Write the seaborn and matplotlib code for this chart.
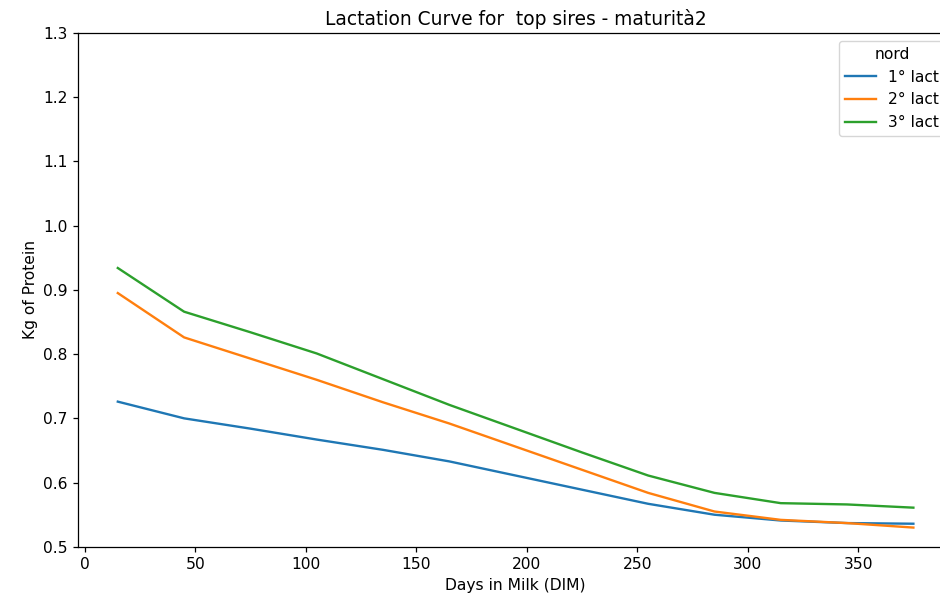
import matplotlib
matplotlib.use("Agg")
import matplotlib.pyplot as plt
import seaborn as sns
import pandas as pd

# days in milk (mid-points of 30-day classes)
dim = [15, 45, 75, 105, 135, 165, 195, 225, 255, 285, 315, 345, 375]

# kg of protein per lactation
lact_1 = [0.726, 0.700, 0.684, 0.667, 0.651, 0.633, 0.611, 0.589, 0.567, 0.550, 0.541, 0.537, 0.536]
lact_2 = [0.895, 0.826, 0.793, 0.760, 0.725, 0.692, 0.656, 0.620, 0.584, 0.555, 0.542, 0.537, 0.530]
lact_3 = [0.934, 0.866, 0.834, 0.801, 0.761, 0.721, 0.684, 0.647, 0.611, 0.584, 0.568, 0.566, 0.561]

labels = ["1° lact", "2° lact", "3° lact"]

df = pd.concat([
    pd.DataFrame({"DIM": dim, "protein": vals, "nord": lab})
    for vals, lab in zip([lact_1, lact_2, lact_3], labels)
])

# the source image was rendered a bit larger than default, scale text/lines
plt.rcParams.update({
    "font.size": 11.2,
    "lines.linewidth": 1.7,
    "axes.linewidth": 0.9,
    "xtick.major.size": 3.9,
    "ytick.major.size": 3.9,
    "xtick.major.width": 0.9,
    "ytick.major.width": 0.9,
})

fig = plt.figure(figsize=(9.4, 5.97), dpi=100)
# the original figure was cut on the right side, so the axes run past the edge
ax = fig.add_axes([0.083, 0.084, 0.931, 0.861])
sns.lineplot(data=df, x="DIM", y="protein", hue="nord", ax=ax)

ax.set_ylim(0.5, 1.3)
ax.set_title("Lactation Curve for  top sires - maturità2", fontsize=13.4)
ax.set_xlabel("Days in Milk (DIM)")
ax.set_ylabel("Kg of Protein")
ax.legend(title="nord", loc="upper right")

fig.savefig("out.png", dpi=100)
